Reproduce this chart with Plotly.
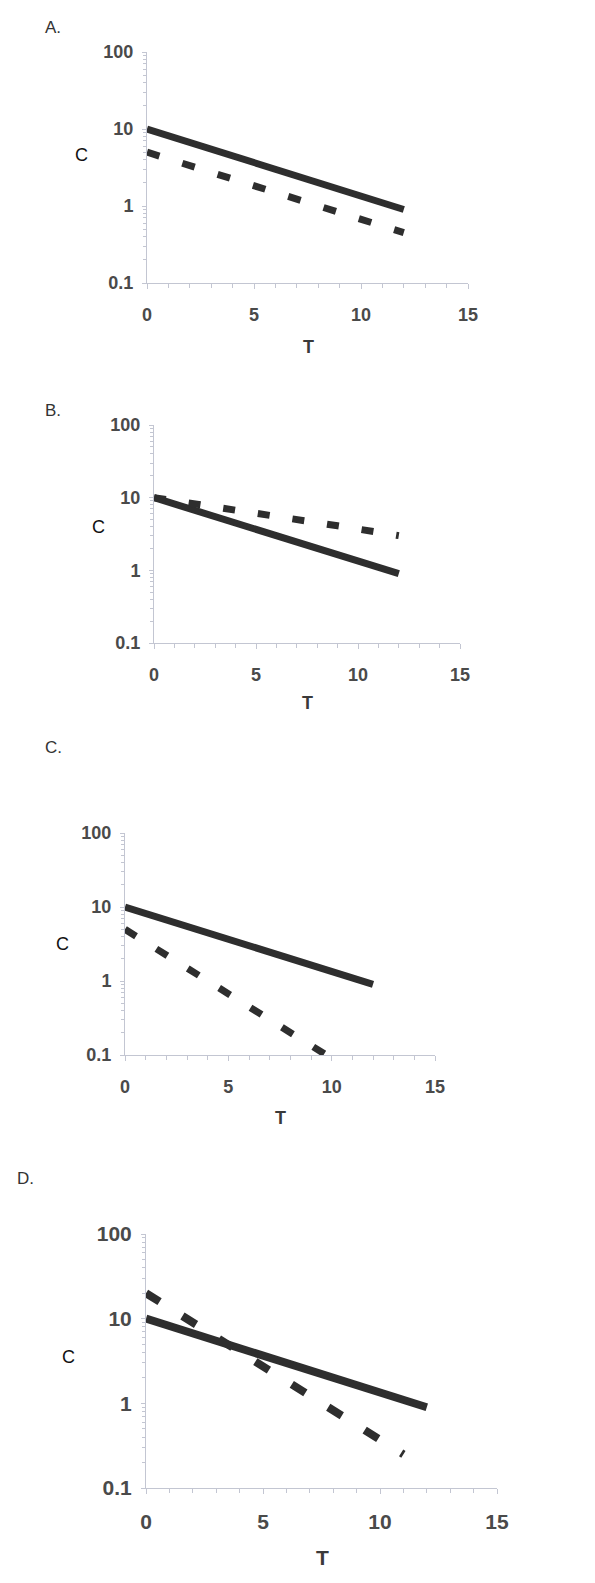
import plotly.graph_objects as go

# page body adds an 8px margin, so the figure is 8px smaller and all pixel spots shift by 8
PAD = 8
W, H = 595 - PAD, 1583 - PAD

# time points
t_full = list(range(0, 13))
t_c_dash = list(range(0, 11))
t_d_dash = list(range(0, 12))

# solid curve (same in all panels)
solid_c = [10, 8.2, 6.7, 5.5, 4.5, 3.7, 3.0, 2.5, 2.0, 1.65, 1.35, 1.1, 0.9]

# dashed curves
a_dash = [5, 4.1, 3.35, 2.75, 2.25, 1.85, 1.5, 1.23, 1.0, 0.83, 0.68, 0.55, 0.45]
b_dash = [10, 9.0, 8.2, 7.4, 6.7, 6.1, 5.5, 5.0, 4.5, 4.1, 3.7, 3.3, 3.0]
c_dash = [5, 3.35, 2.25, 1.5, 1.0, 0.68, 0.45, 0.3, 0.2, 0.14, 0.09]
d_dash = [20, 13.4, 9.0, 6.0, 4.0, 2.7, 1.8, 1.2, 0.82, 0.55, 0.37, 0.25]

x_ticks = [0, 5, 10, 15]
y_ticks = [0.1, 1, 10, 100]
y_ticktext = ["0.1", "1", "10", "100"]
y_minor = [m * d for d in (0.1, 1, 10) for m in range(2, 10)]
panel_names = ["A.", "B.", "C.", "D."]


def fx(px):
    return (px - PAD) / W


def fy(px):
    return 1 - (px - PAD) / H


# pixel boxes of each plot area: (left, right, top, bottom)
boxes = [(147, 468, 52, 283), (154, 460, 425, 643), (125, 435, 833, 1055), (146, 497, 1234, 1488)]
label_pos = [(43, 28), (43, 410), (43, 747), (15, 1178)]
c_pos = [(82, 155), (98, 527), (62, 944), (68, 1357)]
t_pos = [(308, 347), (307, 703), (280, 1118), (322, 1557)]
tick_size = [18, 18, 18, 21]
line_w = [7, 7, 7, 8]
dash_style = ["13px,24px", "12px,23px", "13px,24px", "16px,27px"]

dashed = [(t_full, a_dash), (t_full, b_dash), (t_c_dash, c_dash), (t_d_dash, d_dash)]

line_col = "#2e2e2e"
axis_col = "#c3c6d2"
tick_font_col = "#4a4a4a"

fig = go.Figure()
annotations = []
layout = {}

for i, (l, r, tp, bt) in enumerate(boxes):
    n = "" if i == 0 else str(i + 1)
    xa, ya = "x" + n, "y" + n

    fig.add_trace(go.Scatter(
        x=t_full, y=solid_c, mode="lines", xaxis=xa, yaxis=ya,
        line=dict(color=line_col, width=line_w[i]), showlegend=False, hoverinfo="skip"
    ))
    dx, dy = dashed[i]
    fig.add_trace(go.Scatter(
        x=dx, y=dy, mode="lines", xaxis=xa, yaxis=ya,
        line=dict(color=line_col, width=line_w[i], dash=dash_style[i]), showlegend=False, hoverinfo="skip"
    ))

    tf = dict(family="Liberation Sans, Arial, sans-serif", size=tick_size[i], color=tick_font_col, weight="bold")
    layout["xaxis" + n] = dict(
        domain=[fx(l), fx(r)], anchor=ya, range=[0, 15], automargin=False,
        tickvals=x_ticks, ticks="outside", ticklen=5, tickcolor=axis_col,
        showline=True, linecolor=axis_col, linewidth=1, showgrid=False, zeroline=False,
        tickfont=tf, ticklabelstandoff=10,
        minor=dict(dtick=1, ticks="outside", ticklen=4, tickcolor=axis_col, showgrid=False),
    )
    layout["yaxis" + n] = dict(
        domain=[fy(bt), fy(tp)], anchor=xa, type="log", range=[-1, 2], automargin=False,
        tickvals=y_ticks, ticktext=y_ticktext, ticks="outside", ticklen=4, tickcolor=axis_col,
        showline=True, linecolor=axis_col, linewidth=1, showgrid=False, zeroline=False,
        tickfont=tf, ticklabelstandoff=5,
        minor=dict(tickvals=y_minor, ticks="outside", ticklen=3, tickcolor=axis_col, showgrid=False),
    )

    lx, ly = label_pos[i]
    annotations.append(dict(
        text=panel_names[i], x=fx(lx), y=fy(ly), xref="paper", yref="paper",
        xanchor="left", yanchor="middle", showarrow=False,
        font=dict(family="Liberation Sans, Arial, sans-serif", size=17, color="#333333")
    ))
    cx, cy = c_pos[i]
    annotations.append(dict(
        text="C", x=fx(cx), y=fy(cy), xref="paper", yref="paper",
        xanchor="center", yanchor="middle", showarrow=False,
        font=dict(family="Liberation Sans, Arial, sans-serif", size=18, color="#111111")
    ))
    tx, ty = t_pos[i]
    annotations.append(dict(
        text="T", x=fx(tx), y=fy(ty), xref="paper", yref="paper",
        xanchor="center", yanchor="middle", showarrow=False,
        font=dict(family="Liberation Sans, Arial, sans-serif", size=tick_size[i], color="#3a3a3a", weight="bold")
    ))

fig.update_layout(
    width=W, height=H,
    margin=dict(l=0, r=0, t=0, b=0),
    plot_bgcolor="white", paper_bgcolor="white",
    annotations=annotations,
    **layout
)

fig.write_html("out.html")
